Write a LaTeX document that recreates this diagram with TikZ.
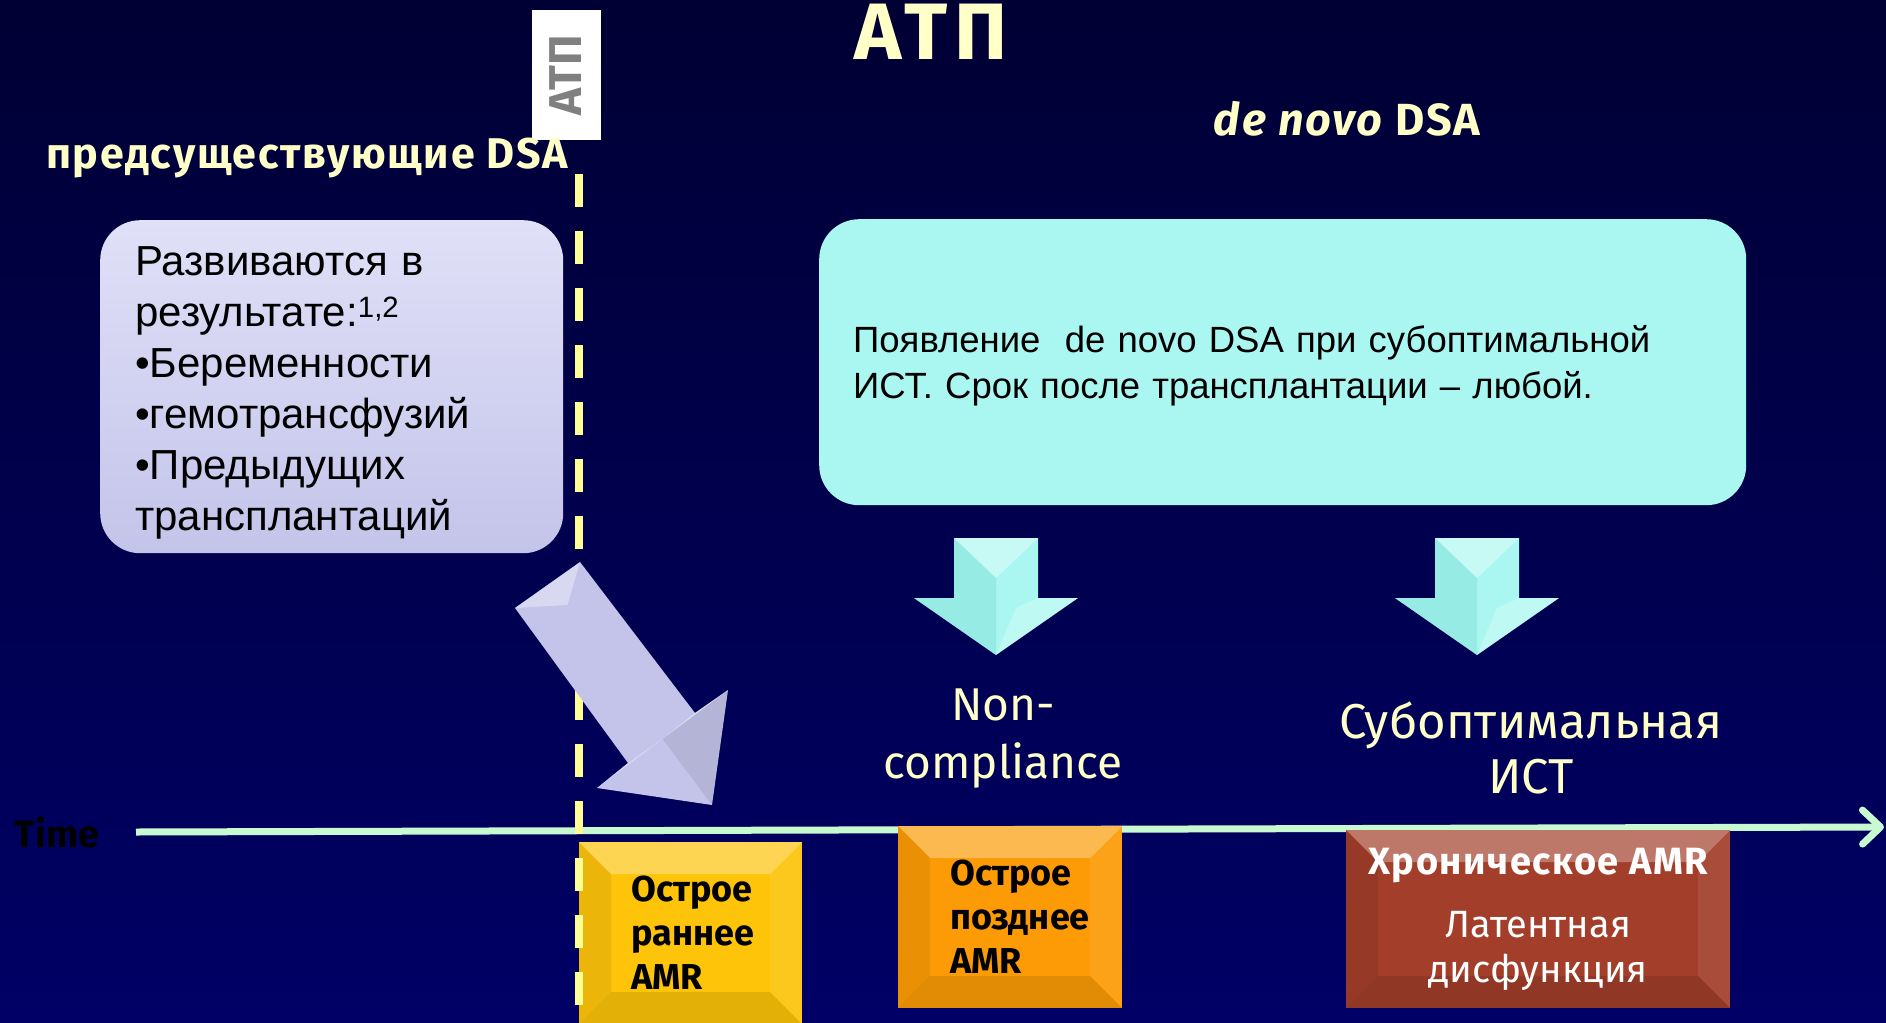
\documentclass[tikz,border=0pt]{standalone}
\usepackage{fontspec}
\setmainfont{Liberation Sans}
\newfontfamily\handfont{Fira Sans}
\newfontfamily\handwide{Fira Sans}[LetterSpace=4]
\usetikzlibrary{arrows.meta,calc}

\definecolor{bgtop}{RGB}{0,0,52}
\definecolor{bgbot}{RGB}{0,0,102}
\definecolor{cream}{RGB}{255,255,200}
\definecolor{dashyellow}{RGB}{255,255,150}
\definecolor{lavender}{RGB}{196,196,234}
\definecolor{lavtop}{RGB}{224,224,248}
\definecolor{aqua}{RGB}{170,247,241}
\definecolor{aquadark}{RGB}{130,222,216}
\definecolor{axisgreen}{RGB}{200,250,210}
\definecolor{gold}{RGB}{253,196,10}
\definecolor{amber}{RGB}{252,155,5}
\definecolor{rust}{RGB}{162,62,42}
\definecolor{attgray}{RGB}{128,128,128}

\newcommand\setfs[2]{\fontsize{#1}{#2}\selectfont}

\tikzset{
  headline/.style={text=cream, font=\handwide\bfseries\setfs{43}{48}, inner sep=0},
  cause/.style={text=cream, font=\handfont\setfs{46}{58}, align=center, inner sep=0},
  softbox/.style={rounded corners=40, anchor=north west, align=left, inner ysep=0},
  bevel/.style={path picture={
    \fill[white,opacity=.30] (path picture bounding box.north west) -- (path picture bounding box.north east)
      -- ($(path picture bounding box.north east)+(-32,32)$) -- ($(path picture bounding box.north west)+(32,32)$) -- cycle;
    \fill[black,opacity=.07] (path picture bounding box.north west) -- ($(path picture bounding box.north west)+(32,32)$)
      -- ($(path picture bounding box.south west)+(32,-32)$) -- (path picture bounding box.south west) -- cycle;
    \fill[white,opacity=.08] (path picture bounding box.north east) -- ($(path picture bounding box.north east)+(-32,32)$)
      -- ($(path picture bounding box.south east)+(-32,-32)$) -- (path picture bounding box.south east) -- cycle;
    \fill[black,opacity=.10] (path picture bounding box.south west) -- ($(path picture bounding box.south west)+(32,-32)$)
      -- ($(path picture bounding box.south east)+(-32,-32)$) -- (path picture bounding box.south east) -- cycle;
  }},
  amrbox/.style={bevel, anchor=north west, inner ysep=0},
  amrtext/.style={font=\handfont\bfseries\setfs{36}{44}},
  dashline/.style={draw=dashyellow, line width=8, dash pattern=on 33 off 24},
  axis/.style={draw=axisgreen, line width=7, -{Straight Barb[length=18,width=34,round]}},
  downarrow/.pic={
    \fill[aqua] (-42,0) -- (42,0) -- (42,60) -- (82,60) -- (0,117) -- (-82,60) -- (-42,60) -- cycle;
    \fill[aquadark,opacity=.45] (-42,0) -- (0,40) -- (0,117) -- (-82,60) -- (-42,60) -- cycle;
    \fill[white,opacity=.35] (-42,0) -- (42,0) -- (0,40) -- cycle;
    \fill[white,opacity=.25] (42,60) -- (82,60) -- (0,117) -- (20,70) -- cycle;
  }
}

\begin{document}
\begin{tikzpicture}[x=1pt,y=-1pt]
\useasboundingbox (0,0) rectangle (1886,1022);
% background
\fill[top color=bgtop, bottom color=bgbot] (0,0) rectangle (1886,1022);

% titles
\node[headline, font=\handfont\bfseries\setfs{80}{84}\addfontfeatures{LetterSpace=8}] (title) at (931,32) {АТП};
\node[fill=white, rotate=90, minimum width=130, minimum height=69, inner sep=0,
      text=attgray, font=\handfont\bfseries\setfs{46}{50}] (attbox) at (566,75) {АТП};
\node[headline, anchor=west] (pre) at (46,158) {предсуществующие DSA};
\node[headline, font=\handwide\bfseries\setfs{45}{50}] (novo) at (1347,119) {\itshape de novo\upshape{} DSA};

% time axis
\coordinate (t0) at (136,832);
\coordinate (t1) at (1884,827);
\draw[axis] (t0) -- (t1);
\node[text=black, font=\handfont\bfseries\setfs{38}{40}, inner sep=0] (time) at (57,832) {Time};

% outcome boxes on the time line
\node[amrbox, fill=gold, minimum width=223, minimum height=182, text width=119,
      inner xsep=52, amrtext, align=left] (early) at (579,842) {Острое\\раннее\\AMR};
\node[amrbox, fill=amber, minimum width=224, minimum height=182, text width=120,
      inner xsep=52, amrtext, align=left] (late) at (898,826) {Острое\\позднее\\AMR};
\node[amrbox, fill=rust, minimum width=384, minimum height=178, inner xsep=0,
      text=white, align=center, font=\handfont\setfs{38}{45}] (chronic) at (1346,830)
      {{\bfseries\handwide\setfs{38}{44}Хроническое AMR}\\[18pt]Латентная\\дисфункция};

% transplantation day marker
\coordinate (vtop) at (579,174);
\coordinate (vbot) at (579,1022);
\draw[dashline] (vtop) -- (vbot);

% source boxes
\node[softbox, top color=lavtop, bottom color=lavender, minimum width=463, minimum height=333,
      text width=393, inner xsep=35, font=\setfs{42}{51}] (causes) at (100,220)
  {\rule{0pt}{42pt}Развиваются в\\результате:\textsuperscript{1,2}\\•Беременности\\•гемотрансфузий\\•Предыдущих\\трансплантаций};
\node[softbox, fill=aqua, minimum width=927, minimum height=286,
      text width=859, inner xsep=34, font=\setfs{36.5}{46}] (denovo) at (819,219)
  {\rule{0pt}{34pt}Появление\ \ de novo DSA при субоптимальной\\ИСТ. Срок после трансплантации – любой.};

% arrow from the lavender box to the early rejection
\coordinate (d1) at (515,608);
\coordinate (d2) at (580,562);
\coordinate (d3) at (695,713);
\coordinate (d4) at (728,690);
\coordinate (d5) at (712,805);
\coordinate (d6) at (597,788);
\coordinate (d7) at (628,763);
\fill[lavender] (d1) -- (d2) -- (d3) -- (d4) -- (d5) -- (d6) -- (d7) -- cycle;
\fill[white,opacity=.35] (d1) -- (d2) -- ($(d2)!.5!(d1)+(20,20)$) -- cycle;
\fill[white,opacity=.45] (d3) -- (d4) -- ($(d4)!.5!(d6)$) -- cycle;
\fill[white,opacity=.35] (d6) -- (d7) -- ($(d4)!.5!(d6)$) -- cycle;
\fill[black,opacity=.08] (d4) -- (d5) -- ($(d4)!.5!(d6)$) -- cycle;

% arrows from the de novo box to their causes
\pic at (996,538) {downarrow};
\pic at (1477,538) {downarrow};

\node[cause] (noncompl) at (1003,739) {Non-\\compliance};
\node[cause, font=\handfont\setfs{49}{55}] (subopt) at (1531,748) {Субоптимальная\\ИСТ};
\end{tikzpicture}
\end{document}
